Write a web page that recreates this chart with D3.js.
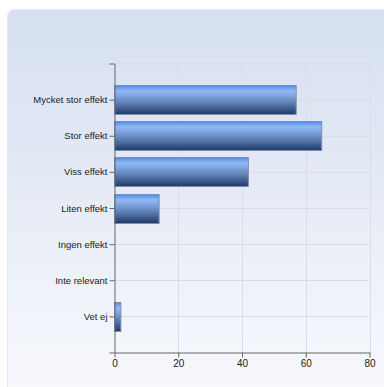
<!DOCTYPE html>
<html><head><meta charset="utf-8">
<script src="https://cdn.jsdelivr.net/npm/d3@7"></script>
<style>html,body{margin:0;padding:0;background:#fff;}svg{display:block;}</style>
</head><body>
<script>
const categories = ["Mycket stor effekt","Stor effekt","Viss effekt","Liten effekt","Ingen effekt","Inte relevant","Vet ej"];
const values = [57, 65, 42, 14, 0, 0, 2];
const xTicks = [0, 20, 40, 60, 80];

(function(){
const W = 384, H = 387;
const FONT = "'Liberation Sans', Arial, sans-serif";
const svg = d3.select("body").append("svg").attr("width", W).attr("height", H);
const defs = svg.append("defs");

const bg = defs.append("linearGradient").attr("id","bg").attr("x1",0).attr("y1",0).attr("x2",0).attr("y2",1);
bg.append("stop").attr("offset","0%").attr("stop-color","#d5dff0");
bg.append("stop").attr("offset","100%").attr("stop-color","#f9fafd");

const bar = defs.append("linearGradient").attr("id","bar").attr("x1",0).attr("y1",0).attr("x2",0).attr("y2",1);
[["0%","#4a8bec"],["18%","#8fb8f4"],["30%","#86abe6"],["60%","#5f7fb5"],["100%","#1f3968"]]
  .forEach(([o,c]) => bar.append("stop").attr("offset",o).attr("stop-color",c));

svg.append("rect").attr("x",7.5).attr("y",9.5).attr("width",400).attr("height",400)
  .attr("rx",7).attr("fill","url(#bg)").attr("stroke","#e6ebf3").attr("stroke-width",1);

const pL = 114.5, pR = 369.5, pT = 63.5, pB = 352.5;
const x = d3.scaleLinear().domain([0,80]).range([pL,pR]);
const y = d3.scaleLinear().domain([0, categories.length + 1]).range([pT,pB]);
const step = y(1) - y(0);
const bh = step * 0.8;
const data = categories.map((c,i)=>({c, v: values[i], i}));

const g = svg.append("g");
g.append("line").attr("x1",pL).attr("x2",pR).attr("y1",pT).attr("y2",pT).attr("stroke","#d8dde6");
g.selectAll("line.vg").data(xTicks.slice(1)).join("line").attr("class","vg")
  .attr("x1",d=>Math.round(x(d))+0.5).attr("x2",d=>Math.round(x(d))+0.5)
  .attr("y1",pT).attr("y2",pB).attr("stroke","#d8dde6");
g.selectAll("line.hg").data(data).join("line").attr("class","hg")
  .attr("x1",pL).attr("x2",pR)
  .attr("y1",d=>Math.round(y(d.i+1))+0.5).attr("y2",d=>Math.round(y(d.i+1))+0.5)
  .attr("stroke","#d8dde6");

g.selectAll("rect.b").data(data.filter(d=>d.v>0)).join("rect").attr("class","b")
  .attr("x",pL).attr("y",d=>Math.round(y(d.i+1) - bh/2)+0.5)
  .attr("width",d=>x(d.v)-pL).attr("height",Math.round(bh))
  .attr("fill","url(#bar)").attr("stroke","#7c8fb3").attr("stroke-width",1);

const yAxis = d3.axisLeft(y).tickValues(d3.range(0, categories.length + 2))
  .tickFormat(d => (d>=1 && d<=categories.length) ? categories[d-1] : "")
  .tickSize(5).tickSizeOuter(0);
const ya = svg.append("g").attr("transform",`translate(${pL},0)`).call(yAxis);
ya.attr("font-family", null).attr("font-size", null);
ya.select(".domain").attr("stroke","#666");
ya.selectAll(".tick line").attr("stroke","#666");
ya.selectAll("text").attr("fill","#222").style("font-family",FONT).style("font-size","9.5px").attr("x",-7);

const xAxis = d3.axisBottom(x).tickValues(xTicks).tickSize(5).tickSizeOuter(0);
const xa = svg.append("g").attr("transform",`translate(0,${pB})`).call(xAxis);
xa.select(".domain").attr("stroke","#666");
xa.selectAll(".tick line").attr("stroke","#666");
xa.selectAll("text").attr("fill","#222").style("font-family",FONT).style("font-size","10px").attr("y",7);
})();
</script>
</body></html>
